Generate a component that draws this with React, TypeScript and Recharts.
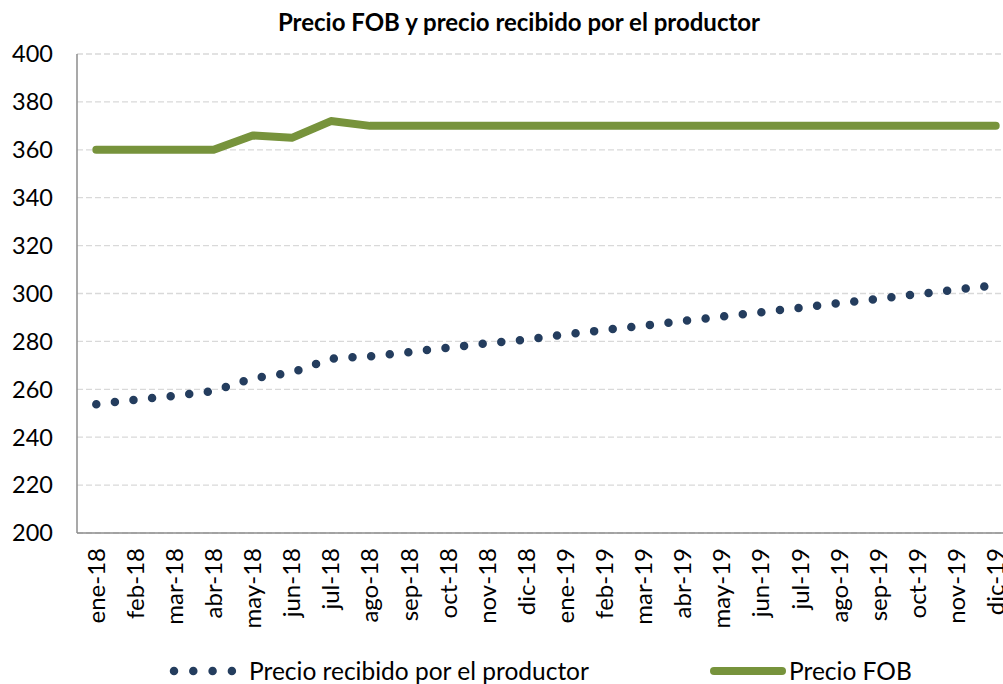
import React from "react";
import { LineChart, Line, XAxis, YAxis, CartesianGrid } from "recharts";

const months = [
  "ene-18", "feb-18", "mar-18", "abr-18", "may-18", "jun-18",
  "jul-18", "ago-18", "sep-18", "oct-18", "nov-18", "dic-18",
  "ene-19", "feb-19", "mar-19", "abr-19", "may-19", "jun-19",
  "jul-19", "ago-19", "sep-19", "oct-19", "nov-19", "dic-19",
];

const precioFOB = [
  360, 360, 360, 360, 366, 365, 372, 370, 370, 370, 370, 370,
  370, 370, 370, 370, 370, 370, 370, 370, 370, 370, 370, 370,
];

const precioProductor = [
  253.8, 255.6, 257.3, 259.3, 264.6, 267.0, 272.8, 273.8, 275.5, 277.4, 279.2, 280.7,
  282.9, 284.8, 286.6, 288.5, 290.4, 292.2, 294.0, 296.0, 297.8, 299.7, 301.6, 303.5,
];

const yTicks = [200, 220, 240, 260, 280, 300, 320, 340, 360, 380, 400];

const title = "Precio FOB y precio recibido por el productor";
const legendProductor = "Precio recibido por el productor";
const legendFOB = "Precio FOB";

const data = months.map((m, i) => ({
  month: m,
  fob: precioFOB[i],
  productor: precioProductor[i],
}));

const FONT = "Lato, 'Open Sans', sans-serif";
const GREEN = "#77933C";
const NAVY = "#243D5E";

const XTick = (props: any) => {
  const { x, y, payload } = props;
  return (
    <text
      x={x}
      y={y}
      transform={`rotate(-90, ${x}, ${y})`}
      textAnchor="end"
      dy="0.35em"
      fontSize={24}
      fontFamily={FONT}
      fill="#000"
    >
      {payload.value}
    </text>
  );
};

export default function App() {
  return (
    <div
      style={{
        position: "absolute",
        left: 0,
        top: 0,
        width: 1003,
        height: 684,
        overflow: "hidden",
        background: "#fff",
      }}
    >
      <LineChart
        width={1015}
        height={684}
        data={data}
        margin={{ top: 54, right: 0, bottom: 0, left: 0 }}
      >
        <CartesianGrid
          vertical={false}
          stroke="#D9D9D9"
          strokeDasharray="6 3"
          strokeWidth={1.3}
        />
        <XAxis
          dataKey="month"
          interval={0}
          height={151}
          padding={{ left: 19.3, right: 19.3 }}
          tickLine={false}
          tickSize={0}
          tickMargin={15}
          axisLine={{ stroke: "#8C8C8C", strokeWidth: 1.5 }}
          tick={<XTick />}
        />
        <YAxis
          width={77}
          domain={[200, 400]}
          ticks={yTicks}
          interval={0}
          tickLine={false}
          tickSize={0}
          tickMargin={24}
          axisLine={{ stroke: "#8C8C8C", strokeWidth: 1.5 }}
          tick={{ fontSize: 23.5, fontFamily: FONT, fill: "#000" }}
        />
        <Line
          type="linear"
          dataKey="productor"
          stroke={NAVY}
          strokeWidth={8.5}
          strokeDasharray="0 18.7"
          strokeLinecap="round"
          dot={false}
          isAnimationActive={false}
        />
        <Line
          type="linear"
          dataKey="fob"
          stroke={GREEN}
          strokeWidth={8}
          strokeLinecap="round"
          strokeLinejoin="round"
          dot={false}
          isAnimationActive={false}
        />
      </LineChart>
      <svg
        width={1003}
        height={684}
        style={{ position: "absolute", left: 0, top: 0, pointerEvents: "none" }}
      >
        <text
          x={519}
          y={31}
          textAnchor="middle"
          fontSize={24}
          fontWeight="bold"
          fontFamily={FONT}
          fill="#000"
        >
          {title}
        </text>
        <line
          x1={174}
          y1={671}
          x2={232}
          y2={671}
          stroke={NAVY}
          strokeWidth={8.5}
          strokeDasharray="0 19.3"
          strokeLinecap="round"
        />
        <text x={249} y={671} dy="0.35em" fontSize={24.5} fontFamily={FONT} fill="#000">
          {legendProductor}
        </text>
        <line
          x1={714}
          y1={671}
          x2={782}
          y2={671}
          stroke={GREEN}
          strokeWidth={8}
          strokeLinecap="round"
        />
        <text x={789} y={671} dy="0.35em" fontSize={24.5} fontFamily={FONT} fill="#000">
          {legendFOB}
        </text>
      </svg>
    </div>
  );
}
